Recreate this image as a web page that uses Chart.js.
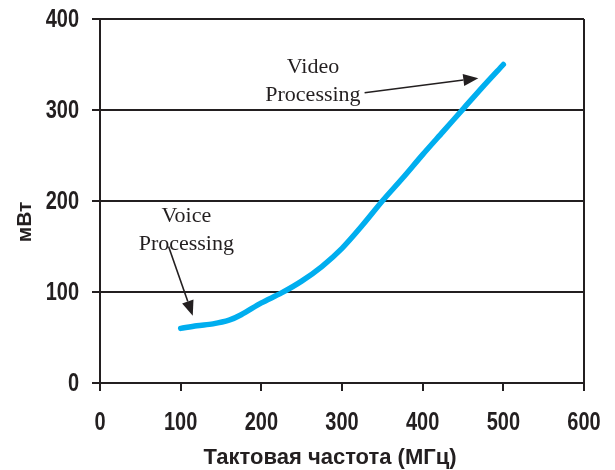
<!DOCTYPE html>
<html>
<head>
<meta charset="utf-8">
<script src="https://cdn.jsdelivr.net/npm/chart.js@4"></script>
<style>
    body { margin: 0; background: #fff; }
    #wrap { width: 615px; height: 470px; }
</style>
</head>
<body>
<div id="wrap"><canvas id="powerChart"></canvas></div>
<script>
    // --- Data ---
    const frequencies = [100, 120, 140, 160, 175, 200, 225, 250, 275, 300, 325, 350, 375, 400, 425, 450, 475, 500];
    const powerMw = [60, 63, 65, 69, 75, 88, 99, 112, 128, 148, 173, 200, 225, 251, 276, 301, 326, 350];
    const xTicks = [0, 100, 200, 300, 400, 500, 600];
    const yTicks = [0, 100, 200, 300, 400];
    const xTitle = 'Тактовая частота (МГц)';
    const yTitle = 'мВт';

    const COLORS = {
        ink: '#231f20',
        line: '#00aeef'
    };
    const AXIS_FONT = "'Liberation Sans', Arial, sans-serif";
    const NOTE_FONT = "'Liberation Serif', 'Times New Roman', serif";

    // note labels, placed in data coordinates
    const notes = [
        { lines: ['Video', 'Processing'], x: 264, y: 341, arrowFrom: [328, 319], arrowTo: [469, 335] },
        { lines: ['Voice', 'Processing'], x: 107, y: 177, arrowFrom: [85, 150], arrowTo: [115, 74] }
    ];

    // tick labels in the reference are a narrow bold face; squeeze Liberation Sans to match
    const axisTextPlugin = {
        id: 'axisText',
        afterDraw(chart) {
            const { ctx, scales: { x, y } } = chart;
            const squeeze = 0.8;
            ctx.save();
            ctx.fillStyle = COLORS.ink;
            ctx.font = 'bold 25px ' + AXIS_FONT;
            ctx.textBaseline = 'middle';

            ctx.textAlign = 'right';
            y.ticks.forEach(t => {
                ctx.save();
                ctx.translate(x.left - 21, y.getPixelForValue(t.value));
                ctx.scale(squeeze, 1);
                ctx.fillText(String(t.value), 0, 1);
                ctx.restore();
            });

            ctx.textAlign = 'center';
            x.ticks.forEach(t => {
                ctx.save();
                ctx.translate(x.getPixelForValue(t.value), y.bottom + 40);
                ctx.scale(squeeze, 1);
                ctx.fillText(String(t.value), 0, 0);
                ctx.restore();
            });

            ctx.font = 'bold 22px ' + AXIS_FONT;
            ctx.fillText(xTitle, x.left + 230, y.bottom + 75);

            ctx.save();
            ctx.translate(25, y.top + 203);
            ctx.rotate(-Math.PI / 2);
            ctx.font = 'bold 21px ' + AXIS_FONT;
            ctx.fillText(yTitle, 0, 0);
            ctx.restore();
            ctx.restore();
        }
    };

    const notesPlugin = {
        id: 'notes',
        afterDatasetsDraw(chart) {
            const { ctx, scales: { x, y } } = chart;
            ctx.save();
            ctx.fillStyle = COLORS.ink;
            ctx.strokeStyle = COLORS.ink;
            ctx.font = '22px ' + NOTE_FONT;
            ctx.textAlign = 'center';
            ctx.textBaseline = 'alphabetic';
            notes.forEach(n => {
                const cx = x.getPixelForValue(n.x);
                const cy = y.getPixelForValue(n.y);
                n.lines.forEach((t, i) => ctx.fillText(t, cx, cy + i * 28));

                const x0 = x.getPixelForValue(n.arrowFrom[0]), y0 = y.getPixelForValue(n.arrowFrom[1]);
                const x1 = x.getPixelForValue(n.arrowTo[0]), y1 = y.getPixelForValue(n.arrowTo[1]);
                const ang = Math.atan2(y1 - y0, x1 - x0);
                const head = 15, half = 6;
                const bx = x1 - head * Math.cos(ang), by = y1 - head * Math.sin(ang);
                ctx.lineWidth = 1.6;
                ctx.beginPath();
                ctx.moveTo(x0, y0);
                ctx.lineTo(bx, by);
                ctx.stroke();
                ctx.beginPath();
                ctx.moveTo(x1, y1);
                ctx.lineTo(bx + half * Math.sin(ang), by - half * Math.cos(ang));
                ctx.lineTo(bx - half * Math.sin(ang), by + half * Math.cos(ang));
                ctx.closePath();
                ctx.fill();
            });
            ctx.restore();
        }
    };

    new Chart(document.getElementById('powerChart'), {
        type: 'line',
        data: {
            labels: frequencies,
            datasets: [{
                data: frequencies.map((f, i) => ({ x: f, y: powerMw[i] })),
                borderColor: COLORS.line,
                borderWidth: 5.5,
                borderCapStyle: 'round',
                borderJoinStyle: 'round',
                pointRadius: 0,
                tension: 0.3,
                fill: false
            }]
        },
        options: {
            responsive: true,
            maintainAspectRatio: false,
            animation: false,
            layout: { padding: { top: 19, right: 31, left: 0, bottom: 0 } },
            plugins: {
                legend: { display: false },
                tooltip: { enabled: false }
            },
            scales: {
                x: {
                    type: 'linear',
                    min: 0,
                    max: 600,
                    afterBuildTicks: s => { s.ticks = xTicks.map(v => ({ value: v })); },
                    afterFit: s => { s.height = 87; },
                    border: { display: true, color: COLORS.ink, width: 2 },
                    grid: {
                        drawOnChartArea: true,
                        drawTicks: true,
                        tickLength: 8,
                        tickColor: COLORS.ink,
                        tickWidth: 2,
                        lineWidth: 2,
                        color: c => (c.tick && c.tick.value === 600) ? COLORS.ink : 'rgba(0,0,0,0)'
                    },
                    ticks: { display: false }
                },
                y: {
                    min: 0,
                    max: 400,
                    afterBuildTicks: s => { s.ticks = yTicks.map(v => ({ value: v })); },
                    afterFit: s => { s.width = 100; },
                    border: { display: true, color: COLORS.ink, width: 2 },
                    grid: {
                        drawTicks: true,
                        tickLength: 8,
                        tickColor: COLORS.ink,
                        tickWidth: 2,
                        lineWidth: 2,
                        color: COLORS.ink
                    },
                    ticks: { display: false }
                }
            }
        },
        plugins: [notesPlugin, axisTextPlugin]
    });
</script>
</body>
</html>
